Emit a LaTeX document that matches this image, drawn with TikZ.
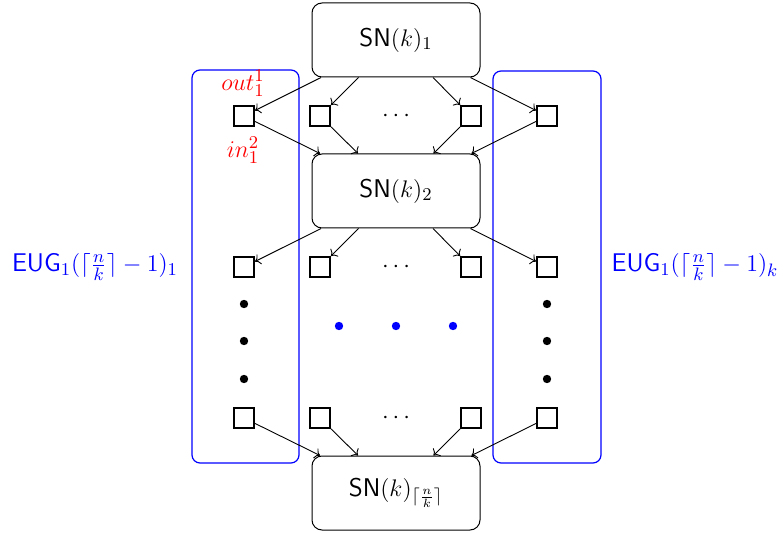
\documentclass[tikz,border=0pt]{standalone}
\usetikzlibrary{arrows.meta}
\begin{document}
\begin{tikzpicture}[x=0.5pt,y=-0.5pt,
  snbox/.style={draw,rounded corners=5pt,minimum width=84pt,minimum height=37pt,font=\fontsize{12.8}{15}\selectfont,line width=0.5pt},
  sq/.style={draw,line width=1pt,minimum size=10pt,inner sep=0pt},
  grp/.style={draw=blue,rounded corners=4pt,line width=0.6pt},
  arr/.style={->,line width=0.45pt},
  bdot/.style={circle,fill=black,inner sep=0pt,minimum size=4.2pt},
  bludot/.style={circle,fill=blue,inner sep=0pt,minimum size=4.2pt},
  lbl/.style={font=\fontsize{12.8}{15}\selectfont}]
\useasboundingbox (0,0) rectangle (783,535);
% groups
\node[grp,minimum width=53.5pt,minimum height=196.5pt,inner sep=0pt] (gl) at (245.5,266.5) {};
\node[grp,minimum width=54pt,minimum height=196pt,inner sep=0pt] (gr) at (547,267) {};
% SN boxes
\node[snbox] (sn1) at (396,40) {\textsf{SN}$(k)_1$};
\node[snbox] (sn2) at (396,191) {\textsf{SN}$(k)_2$};
\node[snbox] (sn3) at (396,493) {\textsf{SN}$(k)_{\lceil\frac{n}{k}\rceil}$};
% squares
\foreach \r/\y in {1/116,2/267,3/418}{
  \node[sq] (s\r a) at (244,\y) {};
  \node[sq] (s\r b) at (320,\y) {};
  \node[sq] (s\r c) at (471,\y) {};
  \node[sq] (s\r d) at (547,\y) {};
  \node[lbl] (d\r) at (396,\y) {$\cdots$};
}
% arrows
\foreach \s in {a,b,c,d}{
  \draw[arr] (sn1) -- (s1\s);
  \draw[arr] (s1\s) -- (sn2);
  \draw[arr] (sn2) -- (s2\s);
  \draw[arr] (s3\s) -- (sn3);
}
% dots
\foreach \y/\n in {304/1,341/2,379/3}{
  \node[bdot] (ld\n) at (244,\y) {};
  \node[bdot] (rd\n) at (547,\y) {};
}
\node[bludot] (bd1) at (339,326) {};
\node[bludot] (bd2) at (396,326) {};
\node[bludot] (bd3) at (453,326) {};
% labels
\node[lbl,text=red] (out) at (243,83) {$out_1^1$};
\node[lbl,text=red] (in) at (243,150) {$in_1^2$};
\node[lbl,text=blue] (eugl) at (95,267) {\textsf{EUG}$_1(\lceil\frac{n}{k}\rceil-1)_1$};
\node[lbl,text=blue] (eugr) at (695,267) {\textsf{EUG}$_1(\lceil\frac{n}{k}\rceil-1)_k$};
\end{tikzpicture}
\end{document}
